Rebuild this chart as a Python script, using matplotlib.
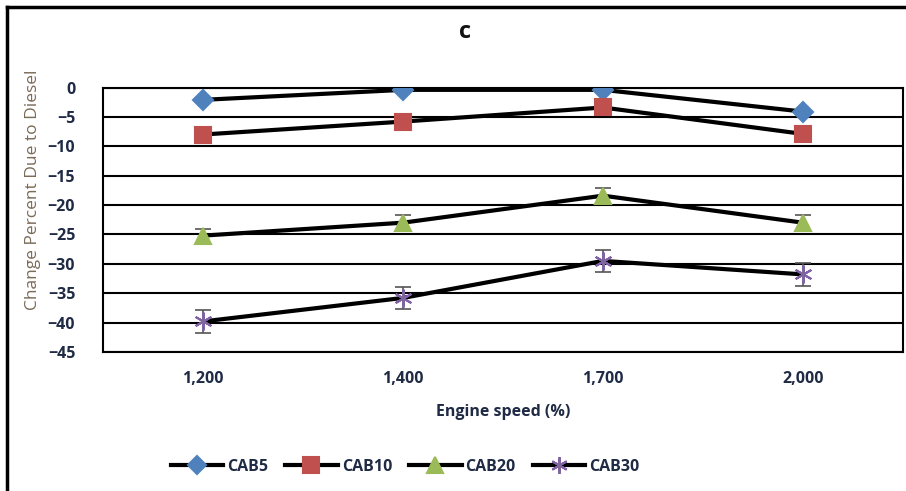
import matplotlib
matplotlib.use("Agg")
import matplotlib.pyplot as plt
from matplotlib.lines import Line2D
import numpy as np

categories = ["1,200", "1,400", "1,700", "2,000"]
cab5 = [-2.1, -0.4, -0.4, -4.1]
cab10 = [-8.0, -5.8, -3.4, -7.9]
cab20 = [-25.2, -23.0, -18.4, -23.0]
cab30 = [-39.8, -35.8, -29.5, -31.8]
err5 = [0.0, 0.0, 0.0, 0.0]
err10 = [0.0, 0.0, 0.0, 0.0]
err20 = [1.2, 1.3, 1.3, 1.3]
err30 = [2.0, 1.9, 1.9, 1.9]
series_names = ["CAB5", "CAB10", "CAB20", "CAB30"]
title = "c"
xlabel = "Engine speed (%)"
ylabel = "Change Percent Due to Diesel"
yticks = [0, -5, -10, -15, -20, -25, -30, -35, -40, -45]

plt.rcParams['font.family'] = ['Open Sans', 'DejaVu Sans']

fig = plt.figure(figsize=(9.06, 4.91), dpi=100)
ax = fig.add_axes([103/906, 1-352/491, 800/906, (352-87.5)/491])

x = np.arange(len(categories))
styles = [
    dict(marker='D', color='#4f81bd', ms=10),
    dict(marker='s', color='#c0504d', ms=12),
    dict(marker='^', color='#9bbb59', ms=12),
    dict(marker=(6, 2, 0), color='#8064a2', ms=13),
]
data = [cab5, cab10, cab20, cab30]
errs = [err5, err10, err20, err30]

for vals, e, st in zip(data, errs, styles):
    ax.plot(x, vals, color='black', lw=3, zorder=3)
    if any(v > 0 for v in e):
        ax.errorbar(x, vals, yerr=e, fmt='none', ecolor='#555555', elinewidth=1.2,
                    capsize=6, capthick=1.2, zorder=4)
    ax.plot(x, vals, linestyle='none', marker=st['marker'], color=st['color'],
            markeredgecolor=st['color'], markersize=st['ms'], mew=1.5, zorder=5)

ax.set_xlim(-0.5, 3.5)
ax.set_ylim(-45, 0)
ax.set_yticks(yticks)
ax.set_xticks(x)
ax.set_xticklabels(categories)
ax.yaxis.grid(True, color='black', lw=1.5)
ax.set_axisbelow(True)
for s in ax.spines.values():
    s.set_linewidth(1.5)
    s.set_color('black')
ax.tick_params(axis='both', length=0, labelsize=11.5, labelcolor='#1f2a44')
for lab in ax.get_yticklabels() + ax.get_xticklabels():
    lab.set_fontweight('bold')
ax.tick_params(axis='y', pad=20)
ax.tick_params(axis='x', pad=14)

ax.set_xlabel(xlabel, fontsize=11.5, fontweight='bold', color='#1f2a44', labelpad=12)
fig.text(33/906, 1-190/491, ylabel, rotation=90, ha='center', va='center',
         fontsize=12.5, color='#7a6a58')
fig.text(465/906, 1-32/491, title, ha='center', va='center', fontsize=17,
         fontweight='bold', color='#111111')

handles = []
for name, st in zip(series_names, styles):
    handles.append(Line2D([0], [0], color='black', lw=3, marker=st['marker'],
                          markerfacecolor=st['color'], markeredgecolor=st['color'],
                          markersize=st['ms'] - 1, mew=1.5, label=name))
leg = fig.legend(handles=handles, loc='center', bbox_to_anchor=(405/906, 1-467/491),
                 ncol=4, frameon=False, fontsize=11.5, handlelength=3.3,
                 handletextpad=0.25, columnspacing=1.05)
for t in leg.get_texts():
    t.set_fontweight('bold')
    t.set_color('#1f2a44')

# outer frame lines (top and left)
fig.add_artist(Line2D([7/906, 1], [1-7/491, 1-7/491], color='black', lw=2.5,
                      transform=fig.transFigure))
fig.add_artist(Line2D([7/906, 7/906], [0, 1-7/491], color='black', lw=2.5,
                      transform=fig.transFigure))

fig.savefig("out.png", dpi=100)
